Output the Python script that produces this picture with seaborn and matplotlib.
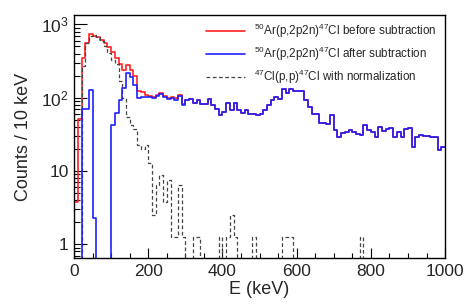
import numpy as np
import pandas as pd
import seaborn as sns
import matplotlib
matplotlib.use("Agg")
import matplotlib.pyplot as plt
from matplotlib.lines import Line2D
from matplotlib.ticker import LogLocator, FixedLocator, MultipleLocator, NullFormatter

# 10 keV bins, 0 - 1000 keV
bin_edges = list(range(0, 1010, 10))

# 50Ar(p,2p2n)47Cl after subtraction (counts per bin)
after_sub = [0, 0, 71, 71, 127, 2.3, 0, 0, 0, 0,
             43, 61, 93, 134, 219, 194, 149, 98, 101, 103,
             102, 98, 104, 112, 101, 96, 99, 94, 104, 80,
             93, 96, 86, 93, 82, 82, 95, 79, 70, 58,
             64, 84, 67, 84, 67, 62, 67, 60, 60, 58,
             60, 67, 80, 93, 103, 96, 130, 115, 130, 125,
             125, 125, 93, 75, 60, 60, 45, 45, 44, 58,
             36, 29, 33, 34, 36, 34, 32.5, 31.5, 42, 36,
             34, 29, 40, 35, 38, 39, 29, 34, 29, 38,
             39, 21.5, 29, 31, 30, 30, 29, 29, 19.5, 21.5]

# before subtraction: differs only at low energy
red_head = [3.8, 52, 350, 550, 730, 700, 670, 610, 560, 490,
            420, 345, 290, 240, 280, 240, 195, 125, 120, 108,
            106, 102, 108, 117, 105, 100, 103, 98, 108, 82]
before_sub = red_head + after_sub[30:]

# 47Cl(p,p)47Cl with normalization
cl_norm = [0, 0, 270, 550, 690, 720, 680, 590, 510, 410,
           330, 290, 170, 98, 55, 42, 38, 23, 20, 23,
           12.7, 2.5, 6.5, 8.8, 3.8, 7.5, 1.27, 1.27, 6.5, 1.27,
           0, 0, 1.27, 1.27, 0, 0, 0, 0, 0, 1.27,
           0, 1.27, 2.5, 1.27, 0, 0, 0, 0, 1.27, 0,
           0, 0, 0, 0, 0, 0, 1.27, 1.27, 1.27, 0,
           0, 0, 0, 0, 0, 0, 0, 0, 0, 0,
           0, 0, 0, 0, 0, 0, 0, 1.27, 0, 0,
           0, 0, 0, 0, 0, 0, 0, 0, 0, 0,
           0, 0, 0, 0, 0, 0, 0, 0, 0, 0]

labels = [r"$^{50}$Ar(p,2p2n)$^{47}$Cl before subtraction",
          r"$^{50}$Ar(p,2p2n)$^{47}$Cl after subtraction",
          r"$^{47}$Cl(p,p)$^{47}$Cl with normalization"]

sns.set_style("white")
plt.rcParams["font.family"] = ["Liberation Sans", "DejaVu Sans"]
plt.rcParams["mathtext.fontset"] = "custom"
plt.rcParams["mathtext.rm"] = "Liberation Sans"
plt.rcParams["mathtext.it"] = "Liberation Sans:italic"

centers = np.array(bin_edges[:-1]) + 5
df = pd.DataFrame({"E": centers, "before": before_sub,
                   "after": after_sub, "norm": cl_norm})

fig = plt.figure(figsize=(4.69, 3.08), dpi=100)
ax = fig.add_axes([0.158, 0.162, 0.791, 0.789])

sns.histplot(data=df, x="E", weights="before", bins=bin_edges, element="step",
             fill=False, color="#ff2020", linewidth=1.2, ax=ax)
sns.histplot(data=df, x="E", weights="norm", bins=bin_edges, element="step",
             fill=False, color="#444444", linewidth=0.9, linestyle=(0, (3, 2)), ax=ax)
sns.histplot(data=df, x="E", weights="after", bins=bin_edges, element="step",
             fill=False, color="#2020ff", linewidth=1.2, ax=ax)

ax.set_yscale("log", nonpositive="clip")
ax.set_xlim(0, 1000)
ax.set_ylim(0.65, 1340)

ax.xaxis.set_major_locator(MultipleLocator(200))
ax.xaxis.set_minor_locator(MultipleLocator(50))
ax.yaxis.set_major_locator(FixedLocator([1, 10, 100, 1000]))
ax.set_yticklabels(["1", "10", r"10$^{2}$", r"10$^{3}$"])
ax.yaxis.set_minor_locator(LogLocator(base=10, subs=np.arange(2, 10)))
ax.yaxis.set_minor_formatter(NullFormatter())

ax.tick_params(axis="both", which="both", bottom=True, left=True,
               top=False, right=False, direction="in", color="black")
ax.tick_params(axis="both", which="major", labelsize=12.5,
               length=9, width=0.8, pad=4)
ax.tick_params(axis="both", which="minor", length=4.5, width=0.8)
ax.tick_params(axis="x", which="major", length=7)
ax.tick_params(axis="x", which="minor", length=3.5)
for s in ax.spines.values():
    s.set_color("black")
    s.set_linewidth(1.0)

ax.set_xlabel("E (keV)", fontsize=13, labelpad=2)
ax.set_ylabel("Counts / 10 keV", fontsize=13, labelpad=6)

handles = [Line2D([], [], color="#ff2020", lw=1.2),
           Line2D([], [], color="#2020ff", lw=1.2),
           Line2D([], [], color="#444444", lw=0.9, linestyle=(0, (3, 2)))]
ax.legend(handles, labels, loc="upper left", bbox_to_anchor=(0.355, 0.973),
          frameon=False, fontsize=8.4, handlelength=3.4, handletextpad=0.7,
          labelspacing=0.42, borderpad=0, borderaxespad=0)

fig.savefig("out.png", dpi=100)
